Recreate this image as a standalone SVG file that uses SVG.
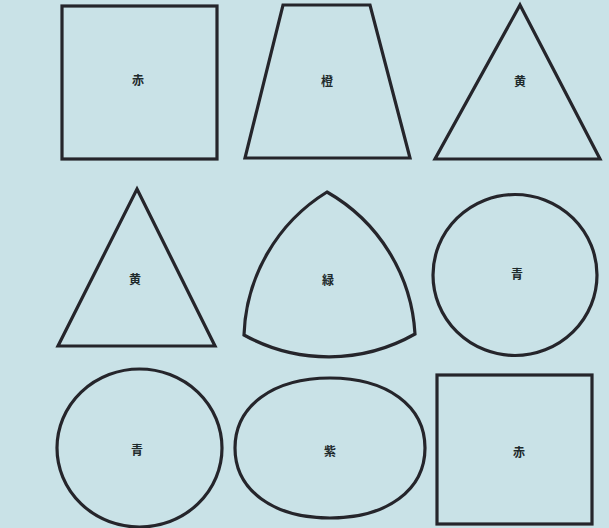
<svg xmlns="http://www.w3.org/2000/svg" width="609" height="528" viewBox="0 0 609 528">
<style>
.s{fill:none;stroke:#25252b;stroke-width:3.2;stroke-linejoin:miter}
.t{font-family:"Noto Sans CJK JP","Noto Sans CJK SC",sans-serif;font-size:12px;font-weight:bold;fill:#1e2a2c;text-anchor:middle;dominant-baseline:central}
</style>
<rect x="0" y="0" width="609" height="528" fill="#c9e2e7"/>
<g id="red-square-1"><rect class="s" x="62" y="6" width="155" height="153"/><text class="t" x="138" y="79">赤</text></g>
<g id="orange-trapezoid"><polygon class="s" points="283,5 370,5 410,158 245,158"/><text class="t" x="327" y="80">橙</text></g>
<g id="yellow-triangle-1"><polygon class="s" points="520,5 600,159 435,159"/><text class="t" x="520" y="80">黄</text></g>
<g id="yellow-triangle-2"><polygon class="s" points="137,189 215,346 58,346"/><text class="t" x="135" y="278">黄</text></g>
<g id="green-reuleaux"><path class="s" d="M327,192 A175,175 0 0 1 415,334 A175,175 0 0 1 244,335 A175,175 0 0 1 327,192 Z"/><text class="t" x="328" y="279">緑</text></g>
<g id="blue-circle-1"><ellipse class="s" cx="515" cy="275" rx="82" ry="80.5"/><text class="t" x="517" y="273">青</text></g>
<g id="blue-circle-2"><ellipse class="s" cx="139.5" cy="448" rx="82.5" ry="79"/><text class="t" x="137" y="449">青</text></g>
<g id="purple-oval"><path class="s" d="M235,448 C235,406 272.9,378 330,378 C387.1,378 425,406 425,448 C425,490 387.1,518 330,518 C272.9,518 235,490 235,448 Z"/><text class="t" x="330" y="450">紫</text></g>
<g id="red-square-2"><rect class="s" x="437" y="375" width="155" height="149"/><text class="t" x="519" y="451">赤</text></g>
<g id="connectors"></g>
</svg>
